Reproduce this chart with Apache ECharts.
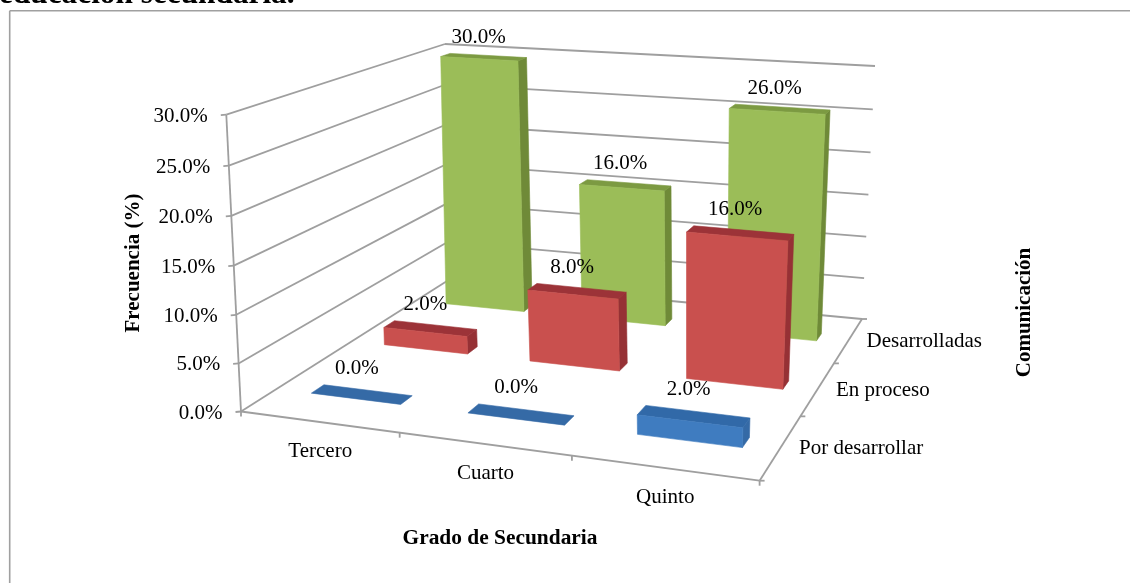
<!DOCTYPE html>
<html>
<head>
<meta charset="utf-8">
<style>html,body{margin:0;padding:0;background:#fff}#c{width:1130px;height:583px}</style>
<script src="https://cdn.jsdelivr.net/npm/echarts@6/dist/echarts.min.js"></script>
</head>
<body>
<div id="c"></div>
<script>
// ---- data ----
const grades = ['Tercero', 'Cuarto', 'Quinto'];
const levels = ['Por desarrollar', 'En proceso', 'Desarrolladas'];
const porDesarrollar = [0, 0, 2];
const enProceso = [2, 8, 16];
const desarrolladas = [30, 16, 26];
const valueTicks = [0, 5, 10, 15, 20, 25, 30];

// ---- perspective frame (screen corners of the 3D box) ----
const FLOOR = [[241, 411.5], [759.6, 480.7], [862, 319], [448.6, 280]];
const TOP = [[226.3, 114.7], [770.9, 162.7], [875, 66], [445, 44]];
const BAR_U = 0.58, BAR_V = 0.16, BAR_SHIFT = 0.007, ZOOM_T = 1.035;
const GRID = '#9f9f9f', FONT = '"Liberation Serif","Times New Roman",serif';
const PAL = [
  {front: '#3f7cc0', side: '#356aa6', top: '#3169a8'},
  {front: '#c9504e', side: '#963135', top: '#9c3338'},
  {front: '#9bbd58', side: '#6f8a38', top: '#7c9a42'}
];

function homography(q) {
  const [[x0,y0],[x1,y1],[x2,y2],[x3,y3]] = q;
  const dx1=x1-x2, dx2=x3-x2, sx=x0-x1+x2-x3, dy1=y1-y2, dy2=y3-y2, sy=y0-y1+y2-y3;
  const d=dx1*dy2-dx2*dy1, g=(sx*dy2-dx2*sy)/d, h=(dx1*sy-sx*dy1)/d;
  const a=x1-x0+g*x1, b=x3-x0+h*x3, e=y1-y0+g*y1, f=y3-y0+h*y3;
  return (u,v)=>{const w=g*u+h*v+1; return [(a*u+b*v+x0)/w,(e*u+f*v+y0)/w];};
}
const H0 = homography(FLOOR), H1 = homography(TOP);
function P(u, v, t) {
  const a = H0(u, v), b = H1(u, v), s = t / (ZOOM_T - (ZOOM_T - 1) * t);
  return [a[0] + (b[0] - a[0]) * s, a[1] + (b[1] - a[1]) * s];
}
// value -> fraction of height through the (hidden) library axis
function frac(api, params, val) {
  const cs = params.coordSys, p = api.coord([0, val]);
  return (cs.y + cs.height - p[1]) / cs.height;
}
function uOf(api, params, i) {
  const cs = params.coordSys, p = api.coord([i, 0]);
  return (p[0] - cs.x) / cs.width;
}
function line(a, b, w) {
  return {type: 'line', silent: true, shape: {x1: a[0], y1: a[1], x2: b[0], y2: b[1]},
    style: {stroke: GRID, lineWidth: w || 1.8, fill: null}};
}
function text(x, y, s, o) {
  return Object.assign({type: 'text', silent: true, style: Object.assign(
    {x, y, text: s, fill: '#000', font: '21px ' + FONT, align: 'center', verticalAlign: 'middle'}, o || {})});
}

const rows = [desarrolladas, enProceso, porDesarrollar]; // painted back to front
const rowIdx = [2, 1, 0];
const barData = [];
rows.forEach((vals, r) => vals.forEach((val, i) => barData.push([i, val, rowIdx[r]])));

function barCorners(api, params) {
  const i = api.value(0), val = api.value(1), row = api.value(2);
  const uc = uOf(api, params, i) + BAR_SHIFT, vc = (row + 0.5) / levels.length, t = frac(api, params, val);
  const du = BAR_U / grades.length / 2, dv = BAR_V / levels.length / 2;
  const u0 = uc - du, u1 = uc + du, v0 = vc - dv, v1 = vc + dv;
  return {row, val, t,
    fb0: P(u0, v0, 0), fb1: P(u1, v0, 0), bb1: P(u1, v1, 0),
    ft0: P(u0, v0, t), ft1: P(u1, v0, t), bt1: P(u1, v1, t), bt0: P(u0, v1, t)};
}

const option = {
  animation: false,
  backgroundColor: '#fff',
  grid: {left: 0, right: 0, top: 0, bottom: 0},
  xAxis: {type: 'category', data: grades, show: false},
  yAxis: {type: 'value', min: 0, max: 30, interval: 5, show: false},
  graphic: [
    {type: 'line', silent: true, shape: {x1: 9.7, y1: 583, x2: 9.7, y2: 10.7}, style: {stroke: '#a0a0a0', lineWidth: 1.6}},
    {type: 'line', silent: true, shape: {x1: 9.7, y1: 10.7, x2: 1130, y2: 10.7}, style: {stroke: '#a0a0a0', lineWidth: 1.6}},
    {type: 'text', silent: true, x: -1, y: 10, style: {text: 'educación secundaria.', fill: '#000', font: 'bold 31.3px ' + FONT, align: 'left', verticalAlign: 'bottom'}},
    {type: 'text', silent: true, x: 134, y: 263, rotation: Math.PI / 2, style: {text: 'Frecuencia (%)', fill: '#000', font: 'bold 21px ' + FONT, align: 'center', verticalAlign: 'middle'}},
    {type: 'text', silent: true, x: 500, y: 538.5, style: {text: 'Grado de Secundaria', fill: '#000', font: 'bold 21.4px ' + FONT, align: 'center', verticalAlign: 'middle'}},
    {type: 'text', silent: true, x: 1025, y: 312.5, rotation: Math.PI / 2, style: {text: 'Comunicación', fill: '#000', font: 'bold 21px ' + FONT, align: 'center', verticalAlign: 'middle'}}
  ],
  series: [
    { // walls, floor edges, ticks
      type: 'custom', z: 1, silent: true, clip: false,
      data: valueTicks.map(v => [0, v]),
      encode: {x: 0, y: 1},
      renderItem(params, api) {
        const val = api.value(1), t = frac(api, params, val), a = P(0, 0, t);
        const els = [line(a, P(0, 1, t)), line(P(0, 1, t), P(1, 1, t)), line(a, [a[0] - 5.5, a[1] + 0.5])];
        els.push(text(a[0] - 18.5, a[1] + 1.5, val.toFixed(1) + '%', {align: 'right'}));
        if (val === 0) {
          els.push(line(P(0, 0, 0), P(0, 0, 1)), line(P(0, 0, 0), P(1, 0, 0)), line(P(1, 0, 0), P(1, 1, 0)));
          [0, 1, 2, 3].forEach(k => {
            const p = P(k / 3, 0, 0);
            els.push(line(p, [p[0], p[1] + 5]));
            const q = P(1, k / 3, 0);
            els.push(line(q, [q[0] + 5, q[1]]));
          });
        }
        return {type: 'group', children: els};
      }
    },
    { // bars
      type: 'custom', z: 2, silent: true, clip: false,
      data: barData,
      encode: {x: 0, y: 1},
      renderItem(params, api) {
        const c = barCorners(api, params), col = PAL[c.row];
        const poly = (pts, fill) => ({type: 'polygon', silent: true, shape: {points: pts},
          style: {fill, stroke: fill, lineWidth: 0.6}});
        if (c.val === 0) {
          return {type: 'group', children: [poly([c.ft0, c.ft1, c.bt1, c.bt0], col.side)]};
        }
        return {type: 'group', children: [
          poly([c.fb1, c.bb1, c.bt1, c.ft1], col.side),
          poly([c.ft0, c.ft1, c.bt1, c.bt0], col.top),
          poly([c.fb0, c.fb1, c.ft1, c.ft0], col.front)
        ]};
      }
    },
    { // value labels
      type: 'custom', z: 3, silent: true, clip: false,
      data: barData,
      encode: {x: 0, y: 1},
      renderItem(params, api) {
        const c = barCorners(api, params);
        return text((c.ft0[0] + c.bt1[0]) / 2 - 5, c.bt0[1] - 16, c.val.toFixed(1) + '%');
      }
    },
    { // category labels
      type: 'custom', z: 3, silent: true, clip: false,
      data: grades.map((g, i) => [i, 0]),
      encode: {x: 0, y: 1},
      renderItem(params, api) {
        const i = api.value(0), p = P(uOf(api, params, i), 0, 0);
        return text(p[0] + 1.5, p[1] + 30, grades[i]);
      }
    },
    { // depth labels
      type: 'custom', z: 3, silent: true, clip: false,
      data: levels.map((g, i) => [0, 0, i]),
      encode: {x: 0, y: 1},
      renderItem(params, api) {
        const i = api.value(2), p = P(1, (i + 0.5) / levels.length, 0);
        return text(p[0] + 18, p[1] + 1.5, levels[i], {align: 'left'});
      }
    }
  ]
};
echarts.init(document.getElementById('c'), null, {renderer: 'canvas'}).setOption(option);
</script>
</body>
</html>
